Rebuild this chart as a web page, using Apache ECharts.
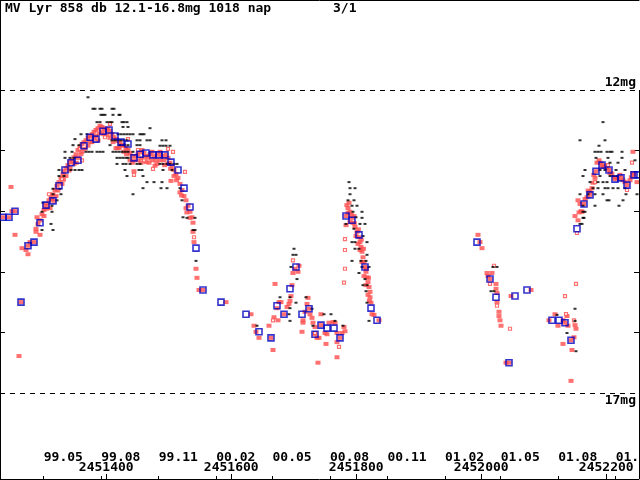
<!DOCTYPE html>
<html>
<head>
<meta charset="utf-8">
<script src="https://cdn.jsdelivr.net/npm/echarts@6/dist/echarts.min.js"></script>
<style>
  html, body { margin: 0; padding: 0; background: #fff; }
  #chart { width: 640px; height: 480px; }
</style>
</head>
<body>
<div id="chart"></div>
<script>
// JD - 2450000, magnitude
var JD0 = 2450000;

var monthTicks = [1300, 1392, 1484, 1576, 1666, 1758, 1850, 1942, 2031, 2123, 2215];
var monthNames = ["99.05", "99.08", "99.11", "00.02", "00.05", "00.08", "00.11", "01.02", "01.05", "01.08", "01.11"];
var jdTicks = [1400, 1600, 1800, 2000, 2200];
var magTicks = [13, 14, 15, 16];

// visual observations (filled red)
var redObs = [
  [1234.8,14.10],[1244.4,14.10],[1247.6,13.60],[1254.0,14.00],[1249.2,14.00],[1254.0,14.39],[1260.4,16.39],
  [1263.6,15.50],[1265.2,14.61],[1271.6,14.64],[1274.8,14.71],[1274.8,14.57],[1278.0,14.51],[1284.4,14.51],
  [1287.6,14.29],[1289.2,14.10],[1290.8,14.21],[1294.0,14.39],[1294.0,14.15],[1297.2,14.05],[1300.4,13.98],
  [1302.0,13.91],[1305.2,13.88],[1308.4,13.82],[1311.6,13.77],[1314.8,13.72],[1316.4,13.83],[1318.0,13.65],
  [1321.2,13.58],[1324.4,13.52],[1327.6,13.45],[1330.8,13.39],[1332.4,13.34],[1335.6,13.29],[1338.8,13.24],
  [1342.0,13.19],[1342.0,13.29],[1345.2,13.16],[1348.4,13.11],[1351.6,13.06],[1354.8,12.99],[1354.8,13.12],
  [1358.0,12.94],[1361.2,12.89],[1364.4,12.86],[1367.6,12.83],[1370.8,12.79],[1374.0,12.76],[1377.2,12.73],
  [1377.2,12.86],[1380.4,12.69],[1383.6,12.66],[1386.8,12.63],[1386.8,12.83],[1390.0,12.59],[1393.2,12.61],
  [1396.4,12.63],[1399.6,12.66],[1402.8,12.64],[1406.0,12.68],[1409.2,12.73],[1412.4,12.78],[1415.6,12.81],
  [1415.6,12.96],[1418.8,12.84],[1422.0,12.87],[1425.2,12.91],[1428.4,12.92],[1431.6,12.96],[1434.8,12.99],
  [1438.0,13.04],[1441.2,13.09],[1444.4,13.16],[1447.6,13.09],[1450.8,13.06],[1454.0,13.02],[1457.2,12.99],
  [1460.4,13.04],[1463.6,13.09],[1466.8,13.12],[1470.0,13.06],[1473.2,13.02],[1476.4,13.09],[1478.0,13.25],
  [1479.6,13.16],[1482.8,13.07],[1486.0,13.02],[1489.2,13.09],[1492.4,13.16],[1495.6,13.07],[1498.8,13.12],
  [1502.0,13.20],[1503.6,13.50],[1505.2,13.25],[1508.4,13.32],[1511.6,13.39],[1514.8,13.45],[1518.0,13.55],
  [1521.2,13.65],[1524.4,13.75],[1527.6,13.82],[1530.8,13.91],[1534.0,14.01],[1537.2,14.10],[1538.8,14.19],
  [1538.8,14.34],[1540.4,14.51],[1543.6,14.95],[1545.2,15.10],[1548.4,15.30],[1554.8,15.30],
  [1329.2,13.55],[1335.6,13.42],[1348.4,13.22],[1361.2,13.02],[1370.8,12.92],[1383.6,12.76],[1396.4,12.73],
  [1406.0,12.79],[1418.8,12.96],[1428.4,13.02],[1438.0,13.16],[1450.8,13.16],[1463.6,13.19],[1473.2,13.16],
  [1486.0,13.16],[1498.8,13.22],[1508.4,13.42],[1518.0,13.69],[1527.6,13.95],[1534.0,14.11],[1310.0,13.95],
  [1319.6,13.75],[1300.4,14.08],[1287.6,14.34],[1455.6,13.20],[1444.4,13.34],
  [1304.0,13.96],[1313.0,13.80],[1322.5,13.66],[1331.5,13.48],[1340.5,13.33],[1352.0,13.20],[1359.5,13.06],
  [1366.0,12.97],[1374.5,12.86],[1380.0,12.80],[1389.0,12.72],[1392.5,12.69],[1401.0,12.74],[1411.0,12.86],
  [1421.0,12.95],[1432.5,13.06],[1442.0,13.20],[1457.0,13.13],[1468.5,13.20],[1481.0,13.22],[1493.5,13.24],
  [1503.0,13.30],[1512.5,13.49],[1520.5,13.74],[1529.0,14.02],
  [1591.6,15.50],[1631.6,15.70],[1636.4,15.89],[1639.6,15.99],[1644.4,16.09],[1660.4,15.89],[1663.6,16.09],
  [1666.8,16.29],[1668.4,15.75],[1670.0,15.20],[1673.2,15.60],[1674.8,15.80],[1676.4,15.50],[1679.6,15.50],
  [1684.4,15.70],[1689.2,15.58],[1692.4,15.53],[1694.0,15.48],[1695.6,15.40],[1697.2,15.22],[1698.8,15.02],
  [1702.0,14.95],[1706.8,15.00],[1708.4,14.90],[1713.2,15.99],[1714.8,15.80],[1714.8,15.84],[1718.0,15.66],
  [1721.2,15.53],[1722.8,15.43],[1724.4,15.61],[1726.0,15.70],[1729.2,15.76],[1730.8,15.84],[1734.0,15.91],
  [1734.0,16.03],[1737.2,16.09],[1738.8,16.50],[1740.4,16.09],[1743.6,15.70],[1743.6,15.88],[1750.0,16.01],
  [1751.6,16.19],[1753.2,16.03],[1756.4,15.84],[1762.8,15.83],[1766.0,15.84],[1769.2,16.01],[1769.2,16.16],
  [1769.2,16.41],[1774.0,16.09],[1777.2,16.01],[1780.4,15.91],[1782.0,15.98],
  [1783.6,14.08],[1783.6,14.23],[1786.8,13.95],[1788.4,13.86],[1786.8,14.03],[1793.2,14.11],[1794.8,14.19],
  [1798.0,14.26],[1801.2,14.34],[1804.4,14.43],[1806.0,14.51],[1807.6,14.59],[1809.2,14.67],[1810.8,14.76],
  [1812.4,14.84],[1814.0,14.92],[1815.6,15.00],[1817.2,15.09],[1818.8,15.17],[1820.4,15.25],[1822.0,15.33],
  [1822.0,15.42],[1823.6,15.51],[1825.2,15.70],[1828.4,15.71],[1836.4,15.80],[1790.0,14.01],[1796.4,14.08],
  [1799.6,14.41],[1802.8,14.54],[1806.0,14.64],[1809.2,14.84],[1812.4,15.07],[1815.6,15.22],[1818.8,15.38],
  [1790.0,14.18],[1785.0,13.90],[1792.0,14.06],[1797.0,14.20],[1803.5,14.30],[1808.0,14.47],[1811.5,14.62],
  [1816.0,14.95],[1819.5,15.10],[1821.0,15.48],
  [1994.8,14.39],[1998.0,14.51],[2001.2,14.61],[2009.2,15.02],[2010.8,15.07],[2017.2,15.02],[2014.0,15.12],
  [2023.6,15.20],[2023.6,15.28],[2025.2,15.35],[2025.2,15.50],[2028.4,15.66],[2028.4,15.73],[2030.0,15.80],
  [2031.6,15.89],[2039.6,16.50],[2044.4,16.50],[2047.6,15.40],[2079.6,15.30],[2108.4,15.80],[2118.0,15.70],
  [2122.8,15.89],[2130.8,15.80],[2130.8,16.19],[2134.0,15.84],[2137.2,15.73],[2138.8,15.89],[2143.6,16.13],
  [2145.2,16.29],[2148.4,16.08],[2150.0,15.88],[2151.6,15.94],[2143.6,16.80],[2150.0,14.08],[2154.8,13.82],
  [2154.8,14.15],[2158.0,13.88],[2159.6,14.00],[2161.2,14.01],[2164.4,13.88],[2169.2,13.77],[2174.0,13.68],
  [2174.0,13.73],[2177.2,13.62],[2178.8,13.53],[2182.0,13.45],[2183.6,13.34],[2185.2,13.20],[2188.4,13.16],
  [2193.2,13.24],[2194.8,13.27],[2201.2,13.29],[2204.4,13.32],[2206.0,13.37],[2214.0,13.44],[2214.0,13.47],
  [2222.0,13.40],[2223.6,13.45],[2226.8,13.49],[2233.2,13.57],[2238.0,13.49],[2242.8,13.37],[2244.4,13.40],
  [2249.2,13.52],[2242.8,13.02],[2156.5,14.02],[2166.0,13.80],[2171.0,13.66],[2180.0,13.40],[2190.5,13.20],
  [2198.0,13.25],[2209.0,13.38],[2218.5,13.46],[2230.0,13.52],[2240.0,13.44]
];

// other observations (open red)
var redOpen = [
  [1358.0,12.97],[1361.2,13.16],[1406.0,12.56],[1398.0,12.78],[1434.8,12.81],[1450.8,12.99],[1460.4,13.16],
  [1474.8,13.30],[1444.4,13.40],[1498.8,12.97],[1506.8,13.02],[1526.0,13.35],[1329.2,13.47],[1308.4,13.72],
  [1540.4,14.43],[1698.8,14.81],[1782.0,14.46],[1782.0,14.64],[1782.0,14.95],[1780.4,15.18],[1666.8,15.80],
  [1772.4,16.24],[1734.0,16.01],[2014.0,15.20],[2020.4,14.90],[2025.2,15.56],[2046.0,15.94],[2151.6,15.20],
  [2134.0,15.40],[2135.6,15.70],[2148.4,15.80],[2153.2,14.36],[2182.0,13.52],[2202.8,13.24],[2233.2,13.65],
  [2241.2,13.20]
];

// black dots
var blackObs = [
  [1370.8,12.12],[1378.8,12.31],[1382.0,12.31],[1390.0,12.31],[1393.2,12.31],[1409.2,12.31],[1412.4,12.31],
  [1391.6,12.41],[1394.8,12.41],[1398.0,12.41],[1410.8,12.41],[1420.4,12.41],[1422.0,12.41],[1385.2,12.53],
  [1390.0,12.53],[1401.2,12.53],[1406.0,12.53],[1409.2,12.53],[1425.2,12.53],[1428.4,12.53],[1433.2,12.53],
  [1426.8,12.61],[1434.8,12.61],[1470.0,12.63],[1359.6,12.73],[1369.2,12.73],[1418.8,12.73],[1423.6,12.73],
  [1428.4,12.73],[1433.2,12.73],[1438.0,12.73],[1442.8,12.73],[1454.0,12.73],[1457.2,12.73],[1460.4,12.73],
  [1350.0,12.81],[1409.2,12.83],[1414.0,12.83],[1418.8,12.83],[1423.6,12.83],[1428.4,12.83],[1433.2,12.83],
  [1449.2,12.83],[1454.0,12.83],[1465.2,12.83],[1470.0,12.83],[1489.2,12.83],[1495.6,12.83],[1346.8,12.91],
  [1356.4,12.91],[1406.0,12.91],[1422.0,12.91],[1428.4,12.91],[1434.8,12.91],[1449.2,12.91],[1454.0,12.91],
  [1486.0,12.92],[1490.8,12.92],[1495.6,12.92],[1502.0,12.92],[1334.0,13.02],[1345.2,13.02],[1367.6,13.02],
  [1372.4,13.02],[1377.2,13.02],[1385.2,13.02],[1390.0,13.02],[1394.8,13.02],[1410.8,13.02],[1415.6,13.02],
  [1420.4,13.02],[1425.2,13.02],[1430.0,13.02],[1434.8,13.02],[1442.8,13.02],[1334.0,13.12],[1342.0,13.12],
  [1348.4,13.12],[1417.2,13.12],[1422.0,13.12],[1426.8,13.12],[1431.6,13.12],[1434.8,13.12],[1417.2,13.22],
  [1426.8,13.22],[1431.6,13.22],[1438.0,13.22],[1449.2,13.22],[1454.0,13.22],[1486.0,13.22],[1490.8,13.22],
  [1497.2,13.22],[1502.0,13.22],[1508.4,13.22],[1513.2,13.22],[1324.4,13.32],[1343.6,13.32],[1350.0,13.32],
  [1356.4,13.32],[1361.2,13.32],[1430.0,13.32],[1452.4,13.32],[1457.2,13.32],[1490.8,13.32],[1505.2,13.32],
  [1324.4,13.42],[1332.4,13.42],[1433.2,13.42],[1458.8,13.42],[1465.2,13.52],[1476.4,13.52],[1489.2,13.52],
  [1314.8,13.63],[1326.0,13.63],[1458.8,13.62],[1487.6,13.62],[1497.2,13.62],[1518.0,13.62],[1314.8,13.72],
  [1327.6,13.72],[1442.8,13.72],[1521.2,13.82],[1321.2,13.82],[1298.8,13.86],[1313.2,13.91],[1297.2,14.01],
  [1313.2,14.01],[1522.8,14.10],[1529.2,14.11],[1542.0,14.11],[1311.6,14.21],[1297.2,14.31],[1314.8,14.31],
  [1538.8,14.31],[1542.0,14.31],[1543.6,14.82],
  [1641.2,15.89],[1678.0,15.42],[1692.4,15.70],[1694.0,15.42],[1694.0,15.60],[1694.0,15.81],[1695.6,14.92],
  [1698.8,14.72],[1700.4,14.62],[1703.6,14.72],[1703.6,15.51],[1705.2,15.12],[1719.6,15.42],[1729.2,15.61],
  [1730.8,15.89],[1748.4,15.70],[1759.6,15.70],[1766.0,15.81],[1778.8,15.89],
  [1788.4,13.52],[1790.0,13.62],[1798.0,13.62],[1790.0,13.72],[1786.8,13.82],[1796.4,13.82],[1793.2,13.91],
  [1801.2,13.91],[1794.8,14.01],[1809.2,14.01],[1799.6,14.10],[1809.2,14.11],[1783.6,14.21],[1806.0,14.21],
  [1814.0,14.21],[1796.4,14.29],[1810.8,14.41],[1793.2,14.51],[1798.0,14.51],[1817.2,14.51],[1798.0,14.62],
  [1804.4,14.62],[1817.2,14.72],[1793.2,14.82],[1807.6,14.82],[1815.6,14.82],[1809.2,14.92],[1820.4,14.92],
  [1804.4,15.02],[1814.0,15.12],[1810.8,15.22],[1817.2,15.22],[1815.6,15.32],[1817.2,15.51],[1820.4,15.81],
  [2018.8,14.92],[2025.2,14.92],[2015.6,15.32],[2020.4,15.32],[2121.2,15.71],[2137.2,16.01],[2150.0,15.61],
  [2150.0,15.81],[2151.6,16.31],
  [2194.8,12.53],[2158.0,12.83],[2188.4,12.92],[2198.0,12.83],[2182.0,13.02],[2186.8,13.02],[2191.6,13.02],
  [2201.2,13.02],[2206.0,13.02],[2209.2,13.02],[2225.2,13.02],[2183.6,13.12],[2202.8,13.12],[2225.2,13.12],
  [2206.0,13.20],[2218.8,13.20],[2166.0,13.32],[2190.0,13.32],[2198.0,13.32],[2215.6,13.32],[2230.0,13.32],
  [2162.8,13.42],[2190.0,13.42],[2206.0,13.42],[2210.8,13.42],[2217.2,13.42],[2174.0,13.52],[2186.8,13.52],
  [2194.8,13.52],[2201.2,13.52],[2178.8,13.62],[2186.8,13.62],[2198.0,13.62],[2202.8,13.62],[2210.8,13.62],
  [2218.8,13.62],[2230.0,13.62],[2158.0,13.72],[2170.8,13.72],[2182.0,13.72],[2194.8,13.72],[2231.6,13.72],
  [2249.2,13.72],[2201.2,13.82],[2204.4,13.82],[2226.8,13.82],[2162.8,13.91],[2182.0,13.91],[2220.4,13.91],
  [2162.8,14.01],[2166.0,14.01],[2162.8,14.11],[2164.4,14.11],[2158.0,14.21],[2161.2,14.21],[2246.0,13.16]
];

// 10-day means (blue squares)
var means = [
  [1234.8,14.10],[1244.4,14.10],[1254.0,14.00],[1263.6,15.50],[1274.8,14.57],[1284.4,14.51],[1294.0,14.19],
  [1303.6,13.90],[1314.8,13.83],[1324.4,13.58],[1334.0,13.32],[1343.6,13.20],[1354.8,13.16],[1364.4,12.92],
  [1374.0,12.78],[1383.6,12.81],[1394.8,12.68],[1404.4,12.66],[1414.0,12.76],[1423.6,12.86],[1434.8,12.89],
  [1444.4,13.12],[1454.0,13.06],[1463.6,13.04],[1474.8,13.07],[1484.4,13.07],[1494.0,13.07],[1503.6,13.19],
  [1514.8,13.32],[1524.4,13.62],[1534.0,13.93],[1543.6,14.61],[1554.8,15.30],[1583.6,15.50],[1623.6,15.70],
  [1644.4,15.99],[1663.6,16.09],[1673.2,15.56],[1684.4,15.70],[1694.0,15.28],[1703.6,14.92],[1713.2,15.70],
  [1724.4,15.61],[1734.0,16.03],[1743.6,15.88],[1753.2,15.93],[1764.4,15.93],[1774.0,16.09],[1783.6,14.08],
  [1793.2,14.15],[1804.4,14.39],[1814.0,14.92],[1823.6,15.60],[1833.2,15.80],[1993.2,14.51],[2014.0,15.12],
  [2023.6,15.42],[2044.4,16.50],[2054.0,15.40],[2073.2,15.30],[2113.2,15.80],[2124.4,15.80],[2134.0,15.84],
  [2143.6,16.13],[2153.2,14.29],[2164.4,13.88],[2174.0,13.73],[2183.6,13.34],[2193.2,13.24],[2204.4,13.32],
  [2214.0,13.47],[2223.6,13.45],[2233.2,13.57],[2244.4,13.40],[2250.8,13.40]
];

var X_MIN = 1230, X_MAX = 2252.4;
var Y_MIN = 10.515, Y_MAX = 18.419;
var FONT = "DejaVu Sans Mono";
var RED = "#ff4d4d";

var chart = echarts.init(document.getElementById("chart"), null, { renderer: "canvas" });

var baseX = { type: "value", min: X_MIN, max: X_MAX, splitLine: { show: false } };

chart.setOption({
  animation: false,
  backgroundColor: "#fff",
  title: [{
    text: "MV Lyr 858 db 12.1-16.8mg 1018 nap",
    left: 5, top: 2, padding: 0,
    textStyle: { fontFamily: FONT, fontSize: 13, fontWeight: "bold", color: "#000" }
  }, {
    text: "3/1",
    left: 333, top: 2, padding: 0,
    textStyle: { fontFamily: FONT, fontSize: 13, fontWeight: "bold", color: "#000" }
  }],
  grid: { left: 0, right: 1, top: 0, bottom: 1, containLabel: false, outerBoundsMode: "none" },
  xAxis: [
    Object.assign({}, baseX, {
      position: "bottom",
      axisLine: { show: true, lineStyle: { color: "#000", width: 1 } },
      axisTick: { show: true, inside: true, length: 3, customValues: monthTicks, lineStyle: { color: "#000" } },
      axisLabel: {
        show: true, inside: true, margin: 15, customValues: monthTicks, align: "left",
        fontFamily: FONT, fontSize: 13, fontWeight: "bold", color: "#000",
        formatter: function (v) { var i = monthTicks.indexOf(v); return i >= 0 ? monthNames[i] : ""; }
      }
    }),
    Object.assign({}, baseX, {
      position: "bottom",
      axisLine: { show: false },
      axisTick: { show: true, inside: true, length: 5, customValues: jdTicks, lineStyle: { color: "#000" } },
      axisLabel: {
        show: true, inside: true, margin: 5, customValues: jdTicks,
        fontFamily: FONT, fontSize: 13, fontWeight: "bold", color: "#000",
        formatter: function (v) { return String(v + JD0); }
      }
    }),
    Object.assign({}, baseX, {
      position: "top",
      axisLine: { show: true, lineStyle: { color: "#000", width: 1 } },
      axisTick: { show: false },
      axisLabel: { show: false }
    })
  ],
  yAxis: [{
    type: "value", inverse: true, min: Y_MIN, max: Y_MAX, position: "left",
    splitLine: { show: false },
    axisLine: { show: true, lineStyle: { color: "#000", width: 1 } },
    axisTick: { show: true, inside: true, length: 5, customValues: magTicks, lineStyle: { color: "#000" } },
    axisLabel: { show: false }
  }, {
    type: "value", inverse: true, min: Y_MIN, max: Y_MAX, position: "right",
    splitLine: { show: false },
    axisLine: { show: false },
    axisTick: { show: true, inside: true, length: 5, customValues: magTicks, lineStyle: { color: "#000" } },
    axisLabel: { show: false }
  }],
  series: [{
    name: "red",
    type: "scatter",
    data: redObs,
    symbol: "rect",
    symbolSize: [5, 4],
    itemStyle: { color: RED },
    markLine: {
      silent: true,
      symbol: "none",
      animation: false,
      lineStyle: { color: "#000", width: 1, type: [5, 5] },
      label: { fontFamily: FONT, fontSize: 13, fontWeight: "bold", color: "#000" },
      data: [
        { yAxis: 12, label: { formatter: "12mg", position: "insideEndTop", distance: [3, 1] } },
        { yAxis: 17, label: { formatter: "17mg", position: "insideEndBottom", distance: [3, 1] } },
        [{ coord: [X_MAX, 12], lineStyle: { type: "solid" }, label: { show: false } },
         { coord: [X_MAX, Y_MAX] }]
      ]
    }
  }, {
    name: "redOpen",
    type: "scatter",
    data: redOpen,
    symbol: "rect",
    symbolSize: 3,
    itemStyle: { color: "#fff", borderColor: RED, borderWidth: 1.2 }
  }, {
    name: "black",
    type: "scatter",
    data: blackObs,
    symbol: "rect",
    symbolSize: [3, 2],
    itemStyle: { color: "#000" }
  }, {
    name: "means",
    type: "scatter",
    data: means,
    symbol: "rect",
    symbolSize: 6,
    itemStyle: { color: "rgba(0,0,0,0)", borderColor: "#0000c0", borderWidth: 1.6 }
  }]
});
</script>
</body>
</html>
